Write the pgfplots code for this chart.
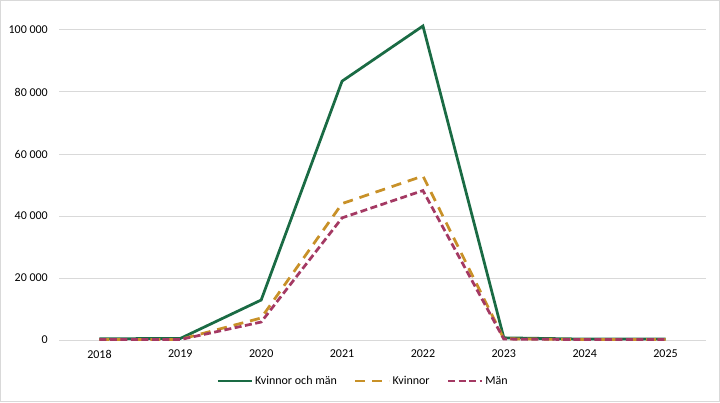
\documentclass[border=0pt]{standalone}
\usepackage{pgfplots}
\pgfplotsset{compat=1.18}
\usepackage{fontspec}
\setmainfont{Carlito}
\definecolor{cgreen}{RGB}{26,107,68}
\definecolor{cgold}{RGB}{200,145,40}
\definecolor{cplum}{RGB}{164,57,99}
\definecolor{cgrid}{RGB}{217,217,217}
\begin{document}
\fontsize{12bp}{14bp}\selectfont
\begin{tikzpicture}[x=1bp,y=1bp]
\draw[cgrid, line width=1bp] (0.5,0.5) rectangle (719.5,401.5);
\begin{axis}[
 at={(59bp,62bp)}, anchor=south west,
 scale only axis, width=647bp, height=310bp,
 xmin=-0.5, xmax=7.5, ymin=0, ymax=100000,
 clip=false,
 axis line style={draw=none},
 major tick length=0pt,
 xtick={0,...,7},
 xticklabels={2018,2019,2020,2021,2022,2023,2024,2025},
 ytick={0,20000,40000,60000,80000,100000},
 yticklabels={0,20 000,40 000,60 000,80 000,100 000},
 scaled y ticks=false,
 ymajorgrids,
 grid style={cgrid, line width=1bp},
 tick label style={font=\fontsize{12bp}{14bp}\selectfont, text=black},
 xticklabel style={yshift=-6bp},
 yticklabel style={xshift=-7bp},
 legend columns=3,
 legend style={draw=none, at={(0.47,-0.132)}, anchor=center,
   font=\fontsize{12bp}{14bp}\selectfont,
   /tikz/every even column/.append style={column sep=15bp},
   nodes={inner xsep=2bp, text height=9bp, text depth=2.5bp}},
 legend image code/.code={\draw[#1] (0bp,0bp) -- (34bp,0bp);},
]
\addplot[cgreen, line width=2.75bp] coordinates {(0,400)(1,500)(2,12900)(3,83500)(4,101300)(5,700)(6,300)(7,300)};
\addlegendentry{Kvinnor och män}
\addplot[cgold, line width=2.75bp, dash pattern=on 10bp off 7bp] coordinates {(0,200)(1,200)(2,7100)(3,44000)(4,52900)(5,400)(6,150)(7,150)};
\addlegendentry{Kvinnor}
\addplot[cplum, line width=2.75bp, dash pattern=on 7bp off 3.5bp] coordinates {(0,150)(1,150)(2,5800)(3,39400)(4,48200)(5,300)(6,150)(7,150)};
\addlegendentry{Män}
\end{axis}
\end{tikzpicture}
\end{document}
